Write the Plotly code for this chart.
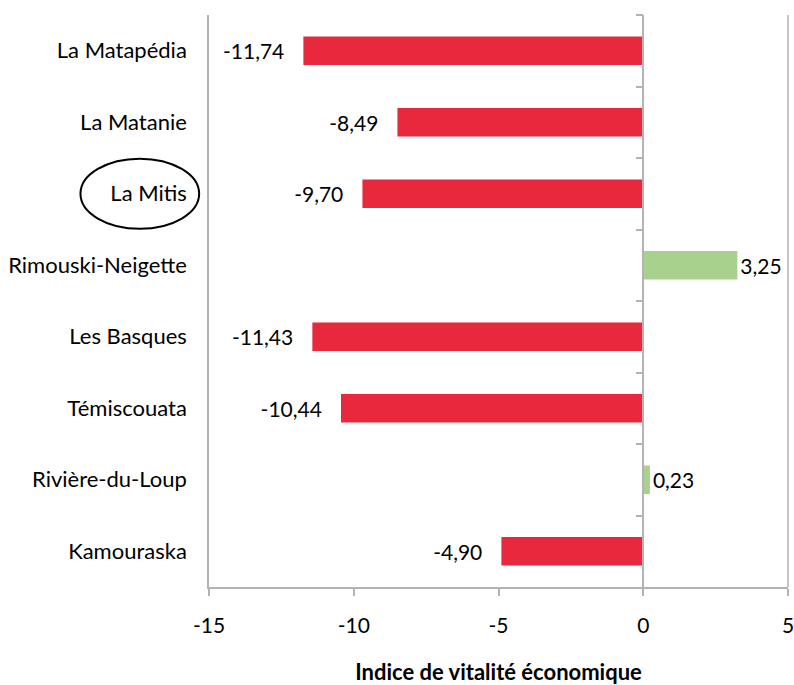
import plotly.graph_objects as go

categories = ["La Matapédia", "La Matanie", "La Mitis", "Rimouski-Neigette",
              "Les Basques", "Témiscouata", "Rivière-du-Loup", "Kamouraska"]
values = [-11.74, -8.49, -9.70, 3.25, -11.43, -10.44, 0.23, -4.90]
x_ticks = [-15, -10, -5, 0, 5]
x_title = "Indice de vitalité économique"
highlight = "La Mitis"

RED = "#E8283C"
GREEN = "#A9D18E"
GRID = "#b3b3b3"
FONT = "Lato"

colors = [GREEN if v >= 0 else RED for v in values]
label_tpl = ["%{x:.2f}   " if v < 0 else "%{x:.2f}" for v in values]

fig = go.Figure()
fig.add_trace(go.Bar(
    x=values, y=categories, orientation="h",
    marker=dict(color=colors, line=dict(width=0)),
    texttemplate=label_tpl, textposition="outside",
    textfont=dict(family=FONT, size=21, color="black"),
    cliponaxis=False, hoverinfo="skip",
))
# invisible helper trace for the category axis drawn at x = 0
fig.add_trace(go.Scatter(
    x=values, y=categories, yaxis="y2", mode="markers",
    marker=dict(opacity=0), hoverinfo="skip", showlegend=False,
))

cat_order = categories
fig.update_layout(
    width=794, height=685,
    margin=dict(l=209, r=6, t=15, b=98),
    plot_bgcolor="white", paper_bgcolor="white",
    separators=", ",
    bargap=0.6,
    showlegend=False,
    font=dict(family=FONT, color="black"),
    xaxis=dict(
        range=[-15, 5], tickvals=x_ticks, ticktext=[str(t) for t in x_ticks],
        showgrid=False, zeroline=False, automargin=False,
        showline=True, linecolor=GRID, linewidth=1.5,
        ticks="outside", ticklen=7, tickcolor=GRID, tickwidth=1.5,
        tickfont=dict(family=FONT, size=21, color="black"),
        ticklabelstandoff=12, ticklabeloverflow="allow",
        title=dict(text="<b>" + x_title + "</b>",
                   font=dict(family=FONT, size=22, color="black"), standoff=33),
        domain=[0, 1],
    ),
    yaxis=dict(
        type="category", categoryorder="array", categoryarray=cat_order,
        range=[len(categories) - 0.5, -0.5], automargin=False,
        showgrid=False, zeroline=False,
        showline=True, linecolor=GRID, linewidth=1.5,
        ticks="", ticklabelstandoff=16,
        tickfont=dict(family=FONT, size=22, color="black"),
    ),
    yaxis2=dict(
        type="category", categoryorder="array", categoryarray=cat_order,
        range=[len(categories) - 0.5, -0.5], automargin=False,
        overlaying="y", anchor="free", position=15 / 20, side="left",
        showgrid=False, zeroline=False, showticklabels=False,
        showline=True, linecolor=GRID, linewidth=1.5,
        ticks="outside", ticklen=7, tickcolor=GRID, tickwidth=1.5,
        tickson="boundaries",
    ),
)

# right frame line of the plot area
fig.add_shape(type="line", xref="x domain", yref="y domain",
              x0=1, x1=1, y0=0, y1=1, line=dict(color=GRID, width=1.5))

# ellipse highlighting La Mitis label
idx = categories.index(highlight)
fig.add_shape(type="circle", xref="paper", yref="y",
              x0=-0.222, x1=-0.017, y0=idx - 0.49, y1=idx + 0.49,
              line=dict(color="black", width=2))

fig.write_html(
    "out.html",
    config={"displayModeBar": False},
    post_script="document.body.style.margin='0';document.body.style.overflow='hidden';",
)
